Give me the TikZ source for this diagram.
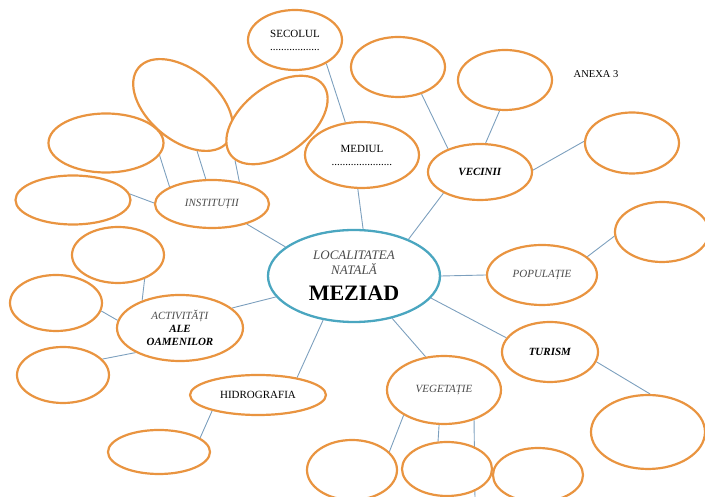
\documentclass[tikz,border=0pt]{standalone}
\usepackage{fontspec}
\setmainfont{Liberation Serif}
\usetikzlibrary{shapes,backgrounds}
\definecolor{portocaliu}{RGB}{233,148,64}
\definecolor{turcoaz}{RGB}{74,166,192}
\definecolor{legatura}{RGB}{125,160,190}
\tikzstyle{e} = [ellipse, draw=portocaliu, line width=2.2pt, fill=white, inner sep=0pt, text centered, font=\fontsize{11}{13}\selectfont]
\tikzstyle{mare} = [ellipse, draw=turcoaz, line width=2.3pt, fill=white, inner sep=0pt, align=center, minimum width=172pt, minimum height=92pt, font=\fontsize{13}{15}\selectfont]
\tikzstyle{leg} = [draw=legatura, line width=0.9pt]
\newcommand{\gri}[1]{\textcolor{black!70}{\textit{#1}}}

\begin{document}
\begin{tikzpicture}[node distance=100pt]
		\useasboundingbox (-354pt,274pt) rectangle (351pt,-223pt);
		\node[mare,yshift=-2pt](1){\gri{LOCALITATEA}\\ \gri{NATALĂ}\\[11pt] {\fontsize{22}{24}\selectfont\textbf{MEZIAD}}};
		
		\node[e,above of=1,xshift=8pt,yshift=21pt,minimum width=114pt,minimum height=66pt,align=center](2){MEDIUL\\......................};
		\node[e,above of=2,xshift=-67pt,yshift=15pt,minimum width=94pt,minimum height=60pt,align=center](3){SECOLUL\\..................};
		\node[e,right of=1,xshift=26pt,yshift=104pt,minimum width=104pt,minimum height=56pt](4){\textbf{\textit{VECINII}}};
		\node[e,above of=4,xshift=-82pt,yshift=5pt,minimum width=94pt,minimum height=60pt](5){};
		\node[e,above of=4,xshift=25pt,yshift=-8pt,minimum width=94pt,minimum height=60pt](6){};
		\node[e,right of=4,xshift=52pt,yshift=29pt,minimum width=94pt,minimum height=61pt](7){};
		\node[right of=6,xshift=-9pt,yshift=6pt,font=\fontsize{10.5}{12}\selectfont](8){ANEXA 3};
		
		\node[e,right of=1,xshift=88pt,yshift=1pt,minimum width=110pt,minimum height=60pt](9){\gri{POPULAȚIE}};
		\node[e,right of=9,xshift=20pt,yshift=43pt,minimum width=94pt,minimum height=60pt](10){};
		\node[e,below of=9,xshift=8pt,yshift=23pt,minimum width=96pt,minimum height=60pt](11){\textbf{\textit{TURISM}}};
		\node[e,below of=11,xshift=98pt,yshift=20pt,minimum width=114pt,minimum height=74pt](12){};
		
		\node[e,below of=1,xshift=90pt,yshift=-14pt,minimum width=114pt,minimum height=68pt](13){\gri{VEGETAȚIE}};
		\node[e,below of=13,xshift=-92pt,yshift=20pt,minimum width=90pt,minimum height=60pt](14){};
		\node[e,below of=13,xshift=3pt,yshift=21pt,minimum width=90pt,minimum height=54pt](15){};
		\node[e,below of=13,xshift=94pt,yshift=15pt,minimum width=90pt,minimum height=54pt](16){};
		\coordinate[below of=13,xshift=31pt,yshift=-9pt](17);
		
		\node[e,below of=1,xshift=-96pt,yshift=-19pt,minimum width=136pt,minimum height=40pt](18){HIDROGRAFIA};
		\node[e,left of=18,xshift=1pt,yshift=-57pt,minimum width=102pt,minimum height=44pt](19){};
		
		\node[e,left of=1,xshift=-74pt,yshift=-52pt,minimum width=126pt,minimum height=66pt,align=center](20){\gri{ACTIVITĂȚI}\\\textbf{\textit{ALE}}\\\textbf{\textit{OAMENILOR}}};
		\node[e,above of=20,xshift=-62pt,yshift=-27pt,minimum width=92pt,minimum height=56pt](21){};
		\node[e,left of=20,xshift=-24pt,yshift=25pt,minimum width=92pt,minimum height=56pt](22){};
		\node[e,left of=20,xshift=-17pt,yshift=-47pt,minimum width=92pt,minimum height=56pt](23){};
		
		\node[e,left of=1,xshift=-42pt,yshift=72pt,minimum width=114pt,minimum height=48pt](24){\gri{INSTITUȚII}};
		\node[e,left of=24,xshift=-39pt,yshift=4pt,minimum width=115pt,minimum height=49pt](25){};
		\node[e,left of=24,xshift=-6pt,yshift=61pt,minimum width=115pt,minimum height=59pt](26){};
		\node[e,above of=24,xshift=-29pt,yshift=-1pt,minimum width=116pt,minimum height=70pt,rotate=-40](27){};
		\node[e,above of=24,xshift=65pt,yshift=-16pt,minimum width=116pt,minimum height=68pt,rotate=37](28){};
		
		\begin{scope}[on background layer]
		\draw[leg] (3.-37)--(2.117);
		\draw[leg] (2.-97)--(1.79);
		\draw[leg] (5.-49)--(4.144);
		\draw[leg] (4.-150)--(1.34);
		\draw[leg] (4.79)--(6.-100);
		\draw[leg] (4.2)--(7.178);
		\draw[leg] (1.0)--(9.180);
		\draw[leg] (9.22)--(10.-175);
		\draw[leg] (1.-16)--(11.162);
		\draw[leg] (11.-12)--(12.87);
		\draw[leg] (1.-48)--(13.119);
		\draw[leg] (13.-148)--(14.26);
		\draw[leg] (13.-98)--(15.108);
		\draw[leg] (13.-45)--(17);
		\draw[leg] (1.-125)--(18.24);
		\draw[leg] (18.-161)--(19.19);
		\draw[leg] (1.-165)--(20.21);
		\draw[leg] (21.-42)--(20.144);
		\draw[leg] (22.-10)--(20.173);
		\draw[leg] (23.22)--(20.-151);
		\draw[leg] (1.157)--(24.-30);
		\draw[leg] (25.6)--(24.179);
		\draw[leg] (26.-13)--(24.158);
		\draw[leg] (27.-33)--(24.104);
		\draw[leg] (28.-173)--(24.39);
		\end{scope}
		\end{tikzpicture}
\end{document}
